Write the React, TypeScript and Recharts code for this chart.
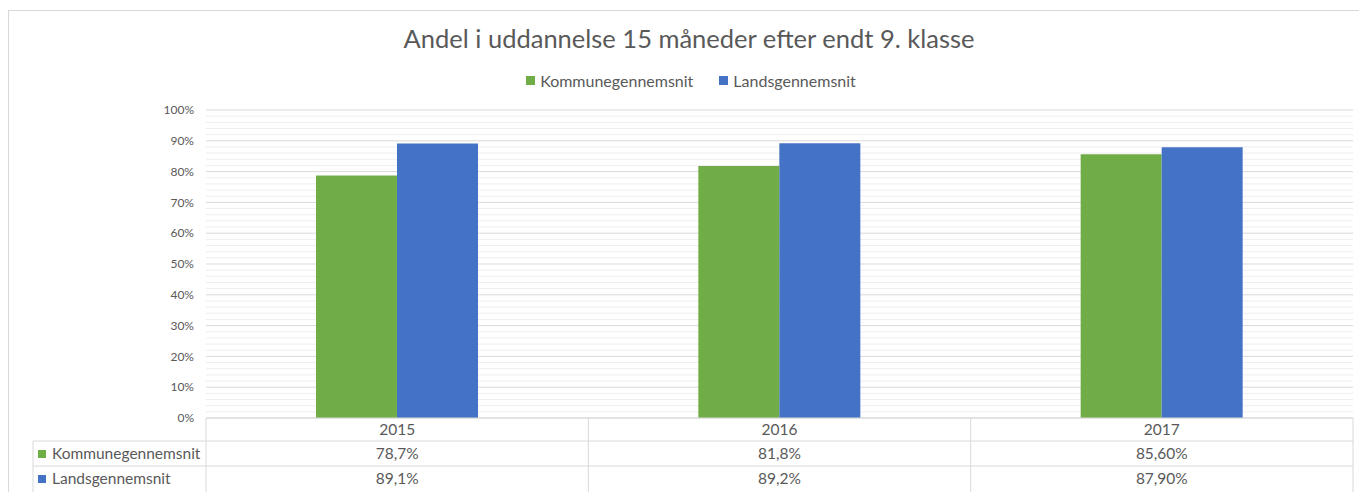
import React from "react";
import { BarChart, Bar, XAxis, YAxis, CartesianGrid, Legend } from "recharts";

const years = ["2015", "2016", "2017"];
const kommune = [78.7, 81.8, 85.6];
const lands = [89.1, 89.2, 87.9];
const kommuneLabels = ["78,7%", "81,8%", "85,60%"];
const landsLabels = ["89,1%", "89,2%", "87,90%"];
const yTicks = [0, 10, 20, 30, 40, 50, 60, 70, 80, 90, 100];
const minorTicks = yTicks.flatMap((t) => [2, 4, 6, 8].map((d) => t + d)).filter((v) => v < 100);

const KOMMUNE = "Kommunegennemsnit";
const LANDS = "Landsgennemsnit";
const GREEN = "#70ad47";
const BLUE = "#4472c4";
const TEXT = "#595959";
const LINE = "#d9d9d9";
const FONT = "Lato, 'Open Sans', sans-serif";

const W = 1359;
const H = 492;
const margin = { top: 90, right: 6, left: 146, bottom: 0 };
const Y_AXIS_W = 60;
const Y_MAX = 100;
const PLOT_W = W - margin.left - Y_AXIS_W - margin.right;
const BAND = PLOT_W / years.length;
const ROW1 = 23; // header row height
const ROW = 25;

const data = years.map((year, i) => ({
  year,
  [KOMMUNE]: kommune[i],
  [LANDS]: lands[i],
}));

// minor gridlines every 2%, placed inside the plot box
function minorGridCoords(args: any) {
  const o = args && args.offset;
  if (!o) return [];
  return minorTicks.map((v) => o.top + o.height * (1 - v / Y_MAX));
}

// x-axis tick draws the data table column for each year
function TableTick(props: any) {
  const { x, y, payload, index } = props;
  const left = x - BAND / 2;
  const right = x + BAND / 2;
  const r1 = y + ROW1;
  const r2 = r1 + ROW;
  const r3 = r2 + ROW + 2;
  const labelLeft = 33;
  return (
    <g fontFamily={FONT} fontSize={15.5} fill={TEXT}>
      <line x1={left} x2={right} y1={y} y2={y} stroke={LINE} />
      <line x1={left} x2={right} y1={r1} y2={r1} stroke={LINE} />
      <line x1={left} x2={right} y1={r2} y2={r2} stroke={LINE} />
      <line x1={right} x2={right} y1={y} y2={r3} stroke={LINE} />
      {index === 0 && (
        <g>
          <line x1={left} x2={left} y1={y} y2={r3} stroke={LINE} />
          <line x1={labelLeft} x2={left} y1={r1} y2={r1} stroke={LINE} />
          <line x1={labelLeft} x2={left} y1={r2} y2={r2} stroke={LINE} />
          <line x1={labelLeft} x2={labelLeft} y1={r1} y2={r3} stroke={LINE} />
          <rect x={labelLeft + 5} y={r1 + 9} width={8} height={8} fill={GREEN} />
          <text x={labelLeft + 19} y={r1 + ROW / 2} dy="0.35em" textAnchor="start" fill={TEXT}>
            {KOMMUNE}
          </text>
          <rect x={labelLeft + 5} y={r2 + 9} width={8} height={8} fill={BLUE} />
          <text x={labelLeft + 19} y={r2 + ROW / 2} dy="0.35em" textAnchor="start" fill={TEXT}>
            {LANDS}
          </text>
        </g>
      )}
      <text x={x} y={y + ROW1 / 2} dy="0.35em" textAnchor="middle" fill={TEXT}>
        {payload.value}
      </text>
      <text x={x} y={r1 + ROW / 2} dy="0.35em" textAnchor="middle" fill={TEXT}>
        {kommuneLabels[index]}
      </text>
      <text x={x} y={r2 + ROW / 2} dy="0.35em" textAnchor="middle" fill={TEXT}>
        {landsLabels[index]}
      </text>
    </g>
  );
}

function ChartLegend() {
  const items = [
    { name: KOMMUNE, color: GREEN },
    { name: LANDS, color: BLUE },
  ];
  return (
    <div
      style={{
        display: "flex",
        justifyContent: "center",
        gap: 26,
        height: 20,
        alignItems: "center",
        fontFamily: FONT,
        fontSize: 16,
        color: TEXT,
        paddingLeft: 4,
      }}
    >
      {items.map((it) => (
        <div key={it.name} style={{ display: "flex", alignItems: "center", gap: 5 }}>
          <span style={{ width: 9, height: 9, background: it.color, display: "inline-block" }} />
          <span>{it.name}</span>
        </div>
      ))}
    </div>
  );
}

export default function App() {
  return (
    <div style={{ position: "absolute", left: 0, top: 0, width: W, height: H, background: "#fff", overflow: "hidden" }}>
      <div
        style={{
          position: "absolute",
          left: 8,
          top: 10,
          width: W,
          height: H,
          borderTop: `1px solid ${LINE}`,
          borderLeft: `1px solid ${LINE}`,
        }}
      />
      <div
        style={{
          position: "absolute",
          left: 0,
          top: 23,
          width: 1378,
          textAlign: "center",
          fontFamily: FONT,
          fontSize: 25.5,
          color: TEXT,
        }}
      >
        Andel i uddannelse 15 måneder efter endt 9. klasse
      </div>
      <BarChart width={W} height={H} data={data} margin={margin} barGap={0}>
        <Legend
          verticalAlign="top"
          content={() => <ChartLegend />}
          wrapperStyle={{ top: 70, left: 0, width: 1378 }}
        />
        <CartesianGrid
          vertical={false}
          stroke="#eeeeee"
          horizontalCoordinatesGenerator={minorGridCoords}
        />
        <CartesianGrid vertical={false} stroke={LINE} />
        <YAxis
          domain={[0, Y_MAX]}
          ticks={yTicks}
          tickFormatter={(v) => `${v}%`}
          width={Y_AXIS_W}
          axisLine={false}
          tickLine={false}
          tickSize={0}
          tickMargin={12}
          tick={{ fill: TEXT, fontSize: 12, fontFamily: FONT }}
        />
        <XAxis
          dataKey="year"
          height={74}
          axisLine={false}
          tickLine={false}
          tickSize={0}
          tickMargin={0}
          interval={0}
          tick={<TableTick />}
        />
        <Bar dataKey={KOMMUNE} fill={GREEN} barSize={81} isAnimationActive={false} />
        <Bar dataKey={LANDS} fill={BLUE} barSize={81} isAnimationActive={false} />
      </BarChart>
    </div>
  );
}
